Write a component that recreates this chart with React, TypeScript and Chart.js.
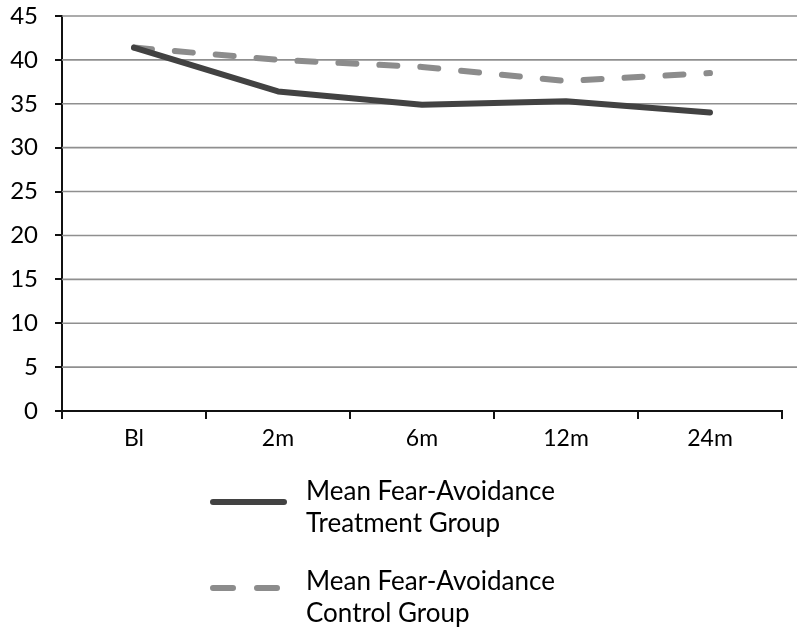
import React, { useEffect, useRef } from "react";
import { Chart, registerables } from "chart.js";

Chart.register(...registerables);

const categories = ["Bl", "2m", "6m", "12m", "24m"];
const treatmentValues = [41.4, 36.4, 34.9, 35.3, 34.0];
const controlValues = [41.4, 40.0, 39.2, 37.6, 38.5];
const yTicks = [0, 5, 10, 15, 20, 25, 30, 35, 40, 45];
const treatmentLabel = ["Mean Fear-Avoidance", "Treatment Group"];
const controlLabel = ["Mean Fear-Avoidance", "Control Group"];

const FONT = "Lato, 'Open Sans', sans-serif";

const gridPlugin = {
  id: "extGrid",
  beforeDatasetsDraw(chart: any) {
    const { ctx, chartArea, scales } = chart;
    const y = scales.y;
    ctx.save();
    ctx.strokeStyle = "#8f8f8f";
    ctx.lineWidth = 1.6;
    yTicks.forEach((v) => {
      if (v === 0) return;
      const py = y.getPixelForValue(v);
      ctx.beginPath();
      ctx.moveTo(chartArea.left, py);
      ctx.lineTo(797, py);
      ctx.stroke();
    });
    ctx.restore();
  },
};

const legendPlugin = {
  id: "customLegend",
  afterDraw(chart: any) {
    const { ctx } = chart;
    const entries = [
      { ds: chart.data.datasets[0], lines: treatmentLabel, sampleY: 502, baseY: 500 },
      { ds: chart.data.datasets[1], lines: controlLabel, sampleY: 588, baseY: 590 },
    ];
    ctx.save();
    entries.forEach((e) => {
      ctx.beginPath();
      ctx.strokeStyle = e.ds.borderColor;
      ctx.lineWidth = 6;
      ctx.lineCap = "round";
      ctx.setLineDash(e.ds.borderDash && e.ds.borderDash.length ? [20, 24] : []);
      ctx.moveTo(213, e.sampleY);
      ctx.lineTo(284, e.sampleY);
      ctx.stroke();
      ctx.setLineDash([]);
      ctx.fillStyle = "#000";
      ctx.font = `26px ${FONT}`;
      ctx.textAlign = "left";
      ctx.textBaseline = "alphabetic";
      e.lines.forEach((t: string, i: number) => {
        ctx.fillText(t, 306, e.baseY + i * 32);
      });
    });
    ctx.restore();
  },
};

export default function App() {
  const ref = useRef<HTMLCanvasElement | null>(null);

  useEffect(() => {
    document.body.style.margin = "0";
    if (!ref.current) return;
    const chart = new Chart(ref.current, {
      type: "line",
      data: {
        labels: categories,
        datasets: [
          {
            label: treatmentLabel.join(" "),
            data: treatmentValues,
            borderColor: "#424242",
            borderWidth: 6,
            pointRadius: 0,
            tension: 0,
            borderCapStyle: "round",
            borderJoinStyle: "round",
          },
          {
            label: controlLabel.join(" "),
            data: controlValues,
            borderColor: "#8c8c8c",
            borderWidth: 6,
            borderDash: [18, 23],
            pointRadius: 0,
            tension: 0,
            borderCapStyle: "round",
            borderJoinStyle: "round",
          },
        ],
      },
      options: {
        animation: false,
        responsive: false,
        devicePixelRatio: 1,
        layout: { padding: { left: 0, right: 18, top: 16, bottom: 0 } },
        plugins: {
          legend: { display: false },
          tooltip: { enabled: false },
        },
        scales: {
          x: {
            offset: true,
            grid: {
              offset: true,
              drawOnChartArea: false,
              drawTicks: true,
              tickLength: 8,
              color: "#111",
              lineWidth: 2,
            },
            border: { color: "#111", width: 2 },
            ticks: {
              color: "#000",
              font: { family: FONT, size: 23 },
              padding: 6,
              maxRotation: 0,
            },
            afterFit(scale: any) {
              scale.height = 220;
              scale.paddingLeft = 0;
              scale.paddingRight = 0;
            },
          },
          y: {
            min: 0,
            max: 45,
            afterBuildTicks(scale: any) {
              scale.ticks = yTicks.map((v) => ({ value: v }));
            },
            grid: {
              drawOnChartArea: false,
              drawTicks: true,
              tickLength: 7,
              color: "#111",
              lineWidth: 2,
            },
            border: { color: "#111", width: 2 },
            ticks: {
              color: "#000",
              font: { family: FONT, size: 24 },
              padding: 17,
            },
            afterFit(scale: any) {
              scale.width = 62;
              scale.paddingTop = 0;
              scale.paddingBottom = 0;
            },
          },
        },
      },
      plugins: [gridPlugin, legendPlugin],
    });
    return () => chart.destroy();
  }, []);

  return (
    <div style={{ width: 800, height: 631, background: "#fff" }}>
      <canvas ref={ref} width={800} height={631} style={{ display: "block" }} />
    </div>
  );
}
